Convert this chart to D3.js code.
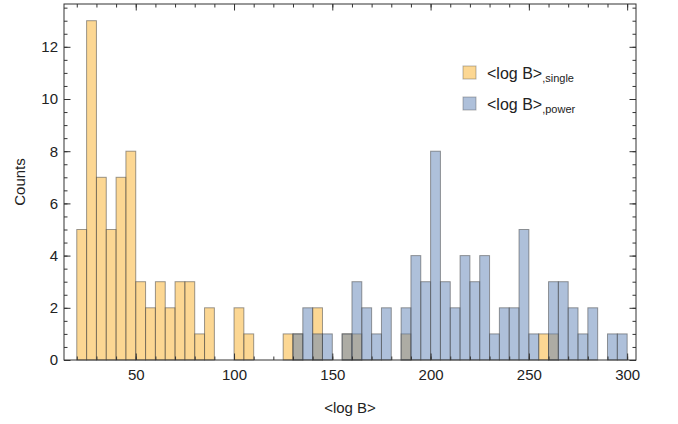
<!DOCTYPE html>
<html>
<head>
<meta charset="utf-8">
<script src="https://cdnjs.cloudflare.com/ajax/libs/d3/7.8.5/d3.min.js"></script>
<style>
  body { margin: 0; background: #fff; }
  text { font-family: "Liberation Sans", Arial, sans-serif; fill: #222; }
</style>
</head>
<body>
<div id="chart"></div>
<script>
// left edges of the histogram bins (bin width 5)
const binStarts = [20, 25, 30, 35, 40, 45, 50, 55, 60, 65, 70, 75, 80, 85, 90, 95,
    100, 105, 110, 115, 120, 125, 130, 135, 140, 145, 150, 155, 160, 165, 170, 175,
    180, 185, 190, 195, 200, 205, 210, 215, 220, 225, 230, 235, 240, 245, 250, 255,
    260, 265, 270, 275, 280, 285, 290, 295];
const binWidth = 5;

// counts, <log B>,single
const singleCounts = [5, 13, 7, 5, 7, 8, 3, 2, 3, 2, 3, 3, 1, 2, 0, 0,
    2, 1, 0, 0, 0, 1, 1, 0, 2, 0, 0, 1, 1, 0, 0, 0,
    0, 1, 0, 0, 0, 0, 0, 0, 0, 0, 0, 0, 0, 0, 0, 1,
    1, 0, 0, 0, 0, 0, 0, 0];

// counts, <log B>,power
const powerCounts = [0, 0, 0, 0, 0, 0, 0, 0, 0, 0, 0, 0, 0, 0, 0, 0,
    0, 0, 0, 0, 0, 0, 1, 2, 1, 1, 0, 1, 3, 2, 1, 2,
    0, 2, 4, 3, 8, 3, 2, 4, 3, 4, 1, 2, 2, 5, 1, 0,
    3, 3, 2, 1, 2, 0, 1, 1];

const xTickLabels = [50, 100, 150, 200, 250, 300];
const yTickLabels = [0, 2, 4, 6, 8, 10, 12];

const series = [
    { name: "single", counts: singleCounts, color: "rgb(250,175,40)" },
    { name: "power", counts: powerCounts, color: "rgb(94,129,181)" }
];

const width = 678, height = 424;
const margin = { left: 64, top: 4, right: 42, bottom: 64 };

const svg = d3.select("#chart").append("svg")
    .attr("width", width)
    .attr("height", height);

const x = d3.scaleLinear()
    .domain([13.5, 304.5])
    .range([margin.left, width - margin.right]);

const y = d3.scaleLinear()
    .domain([0, 13.64])
    .range([height - margin.bottom, margin.top]);

// bars, single first then power on top
series.forEach(function (s) {
    svg.append("g")
        .selectAll("rect")
        .data(binStarts.map((b, i) => ({ x0: b, n: s.counts[i] })).filter(d => d.n > 0))
        .enter()
        .append("rect")
        .attr("x", d => x(d.x0))
        .attr("width", d => x(d.x0 + binWidth) - x(d.x0))
        .attr("y", d => y(d.n))
        .attr("height", d => y(0) - y(d.n))
        .attr("fill", s.color)
        .attr("fill-opacity", 0.5)
        .attr("stroke", "#4a4a4a")
        .attr("stroke-opacity", 0.55)
        .attr("stroke-width", 1);
});

// axes with inward ticks
const xMinor = d3.range(20, 301, 10);
const yMinor = d3.range(0, 13.6, 0.5);

function styleAxis(g) {
    g.select(".domain").remove();
    g.selectAll("line").attr("stroke", "#333");
    g.selectAll("text").style("font-size", "15px")
        .style("font-family", "'Liberation Sans', Arial, sans-serif").attr("fill", "#222");
}

svg.append("g")
    .attr("transform", `translate(0,${y(0)})`)
    .call(d3.axisBottom(x).tickValues(xMinor).tickSizeInner(-3.5).tickSizeOuter(0).tickFormat(""))
    .call(styleAxis);
svg.append("g")
    .attr("transform", `translate(0,${y(0)})`)
    .call(d3.axisBottom(x).tickValues(xTickLabels).tickSizeInner(-6.5).tickSizeOuter(0).tickPadding(9))
    .call(styleAxis);
svg.append("g")
    .attr("transform", `translate(0,${margin.top})`)
    .call(d3.axisTop(x).tickValues(xMinor).tickSizeInner(-3.5).tickSizeOuter(0).tickFormat(""))
    .call(styleAxis);
svg.append("g")
    .attr("transform", `translate(0,${margin.top})`)
    .call(d3.axisTop(x).tickValues(xTickLabels).tickSizeInner(-6.5).tickSizeOuter(0).tickFormat(""))
    .call(styleAxis);

svg.append("g")
    .attr("transform", `translate(${margin.left},0)`)
    .call(d3.axisLeft(y).tickValues(yMinor).tickSizeInner(-3.5).tickSizeOuter(0).tickFormat(""))
    .call(styleAxis);
svg.append("g")
    .attr("transform", `translate(${margin.left},0)`)
    .call(d3.axisLeft(y).tickValues(yTickLabels).tickSizeInner(-6.5).tickSizeOuter(0).tickPadding(6))
    .call(styleAxis);
svg.append("g")
    .attr("transform", `translate(${width - margin.right},0)`)
    .call(d3.axisRight(y).tickValues(yMinor).tickSizeInner(-3.5).tickSizeOuter(0).tickFormat(""))
    .call(styleAxis);
svg.append("g")
    .attr("transform", `translate(${width - margin.right},0)`)
    .call(d3.axisRight(y).tickValues(yTickLabels).tickSizeInner(-6.5).tickSizeOuter(0).tickFormat(""))
    .call(styleAxis);

// frame
svg.append("rect")
    .attr("x", margin.left)
    .attr("y", margin.top)
    .attr("width", width - margin.left - margin.right)
    .attr("height", height - margin.top - margin.bottom)
    .attr("fill", "none")
    .attr("stroke", "#333")
    .attr("stroke-width", 1);

// axis labels
svg.append("text")
    .attr("x", (margin.left + width - margin.right) / 2)
    .attr("y", 413)
    .attr("text-anchor", "middle")
    .style("font-size", "15px")
    .text("<log B>");

svg.append("text")
    .attr("transform", `translate(25,${(margin.top + height - margin.bottom) / 2}) rotate(-90)`)
    .attr("text-anchor", "middle")
    .style("font-size", "15px")
    .text("Counts");

// legend
const legend = svg.append("g").attr("transform", "translate(463,66)");
series.forEach(function (s, i) {
    const row = legend.append("g").attr("transform", `translate(0,${i * 31})`);
    row.append("rect")
        .attr("width", 13).attr("height", 13)
        .attr("fill", s.color).attr("fill-opacity", 0.5)
        .attr("stroke", "#4a4a4a").attr("stroke-opacity", 0.4);
    const t = row.append("text")
        .attr("x", 24).attr("y", 13)
        .style("font-size", "16px");
    t.append("tspan").text("<log B>");
    t.append("tspan").attr("dy", 3).style("font-size", "11px").text("," + s.name);
});
</script>
</body>
</html>
